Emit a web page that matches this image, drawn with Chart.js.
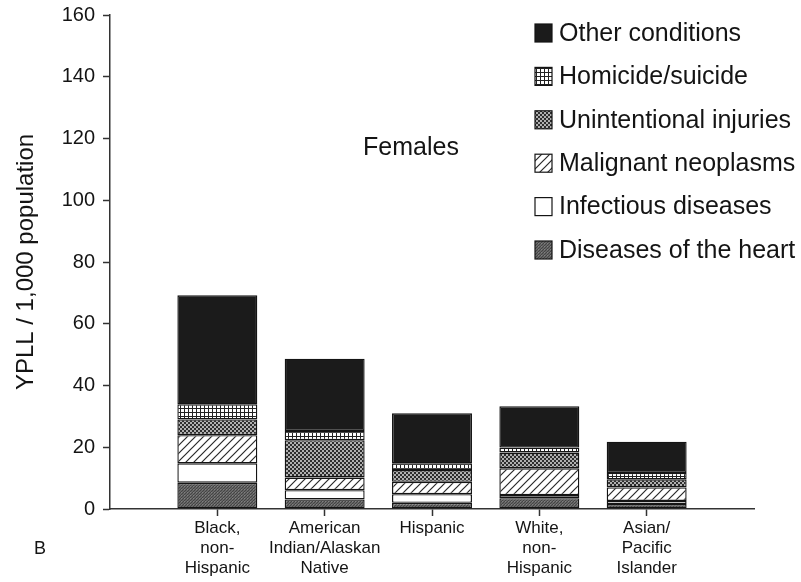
<!DOCTYPE html>
<html>
<head>
<meta charset="utf-8">
<script src="https://cdn.jsdelivr.net/npm/chart.js@4.4.1/dist/chart.umd.min.js"></script>
<style>
  html, body { margin: 0; padding: 0; background: #fff; }
  canvas { display: block; }
</style>
</head>
<body>
<canvas id="chart" width="801" height="582"></canvas>
<script>
// Years of potential life lost per 1,000 females, by race/ethnicity and cause
const groups = [
  ['Black,', 'non-', 'Hispanic'],
  ['American', 'Indian/Alaskan', 'Native'],
  'Hispanic',
  ['White,', 'non-', 'Hispanic'],
  ['Asian/', 'Pacific', 'Islander']
];
const heartDisease     = [8.5, 3.1, 2.0, 3.5, 1.6];
const infectious       = [6.3, 3.0, 2.8, 1.0, 1.0];
const malignant        = [9.1, 4.1, 4.0, 8.7, 4.4];
const unintentional    = [5.1, 12.1, 3.8, 5.1, 2.6];
const homicideSuicide  = [4.9, 3.0, 2.2, 1.6, 2.1];
const otherConditions  = [35.3, 23.4, 16.2, 13.4, 10.1];
const yMin = 0, yMax = 160, yStep = 20;

const FONT = '"Liberation Sans", Arial, Helvetica, sans-serif';
const INK = '#141414';

// ---- fill textures ----
function tile(size, paint) {
  const c = document.createElement('canvas');
  c.width = c.height = size;
  const g = c.getContext('2d');
  paint(g, size);
  return g.createPattern(c, 'repeat');
}
const solidDark = '#1b1b1b';
const gridFill = tile(4, (g, s) => {
  g.fillStyle = '#fff'; g.fillRect(0, 0, s, s);
  g.fillStyle = '#222'; g.fillRect(0, 0, s, 1); g.fillRect(0, 0, 1, s);
});
const dotFill = tile(4, (g, s) => {
  g.fillStyle = '#2e2e2e'; g.fillRect(0, 0, s, s);
  g.fillStyle = '#e8e8e8';
  g.beginPath(); g.arc(1, 1, 0.95, 0, Math.PI * 2); g.fill();
  g.beginPath(); g.arc(3, 3, 0.95, 0, Math.PI * 2); g.fill();
});
const hatchFill = tile(8, (g, s) => {
  g.fillStyle = '#fff'; g.fillRect(0, 0, s, s);
  g.strokeStyle = '#2a2a2a'; g.lineWidth = 1.2;
  g.beginPath();
  g.moveTo(-1, s + 1); g.lineTo(s + 1, -1);
  g.moveTo(-2, 2); g.lineTo(2, -2);
  g.moveTo(s - 2, s + 2); g.lineTo(s + 2, s - 2);
  g.stroke();
});
const stippleFill = tile(3, (g, s) => {
  g.fillStyle = '#666'; g.fillRect(0, 0, s, s);
  g.fillStyle = '#444'; g.fillRect(0, 0, 1, 1); g.fillRect(2, 1, 1, 1); g.fillRect(1, 2, 1, 1);
  g.fillStyle = '#808080'; g.fillRect(1, 0, 1, 1);
});

// empty slots at both ends leave room between the axis and the first/last bar
const pad = arr => [null, ...arr, null];
const labels = ['', ...groups, ''];

const series = [
  { label: 'Diseases of the heart', data: heartDisease, fill: stippleFill },
  { label: 'Infectious diseases', data: infectious, fill: '#ffffff' },
  { label: 'Malignant neoplasms', data: malignant, fill: hatchFill },
  { label: 'Unintentional injuries', data: unintentional, fill: dotFill },
  { label: 'Homicide/suicide', data: homicideSuicide, fill: gridFill },
  { label: 'Other conditions', data: otherConditions, fill: solidDark }
];

const datasets = series.map(s => ({
  label: s.label,
  data: pad(s.data),
  backgroundColor: s.fill,
  borderColor: INK,
  borderWidth: 1.4,
  borderSkipped: false,
  barPercentage: 0.745,
  categoryPercentage: 1
}));

// legend column, panel caption and panel letter
const annotations = {
  id: 'annotations',
  afterDraw(chart) {
    const ctx = chart.ctx;
    ctx.save();
    const items = chart.data.datasets.slice().reverse();
    const boxX = 535, boxW = 17, boxH = 18, textX = 559, rowY0 = 33, rowStep = 43.4;
    items.forEach((ds, i) => {
      const cy = rowY0 + i * rowStep;
      ctx.fillStyle = ds.backgroundColor;
      ctx.fillRect(boxX, cy - boxH / 2, boxW, boxH);
      ctx.strokeStyle = INK; ctx.lineWidth = 1.2;
      ctx.strokeRect(boxX, cy - boxH / 2, boxW, boxH);
      ctx.fillStyle = INK;
      ctx.font = '25px ' + FONT;
      ctx.textAlign = 'left'; ctx.textBaseline = 'middle';
      ctx.fillText(ds.label, textX, cy + 1);
    });
    ctx.font = '25px ' + FONT;
    ctx.textAlign = 'center'; ctx.textBaseline = 'middle';
    ctx.fillText('Females', 411, 148);
    ctx.font = '18px ' + FONT;
    ctx.fillText('B', 40, 549);
    ctx.restore();
  }
};

new Chart(document.getElementById('chart'), {
  type: 'bar',
  data: { labels, datasets },
  plugins: [annotations],
  options: {
    responsive: false,
    devicePixelRatio: 1,
    animation: false,
    layout: { padding: { top: 15, right: 47, left: 0, bottom: 0 } },
    plugins: { legend: { display: false }, tooltip: { enabled: false } },
    scales: {
      x: {
        stacked: true,
        offset: false,
        afterFit(scale) { scale.height = 73; },
        border: { display: true, color: '#333', width: 1.5 },
        grid: {
          offset: false,
          drawOnChartArea: false,
          drawTicks: true,
          tickLength: 7,
          tickWidth: 1.5,
          tickColor: ctx => (ctx.index === 0 || ctx.index === labels.length - 1) ? 'rgba(0,0,0,0)' : '#333'
        },
        ticks: {
          autoSkip: false,
          maxRotation: 0,
          padding: 3,
          color: INK,
          font: { family: FONT, size: 17, lineHeight: 1.15 }
        }
      },
      y: {
        stacked: true,
        min: yMin,
        max: yMax,
        afterFit(scale) {
          scale.width = 110;
          scale.paddingTop = 0;
          scale.paddingBottom = 0;
        },
        border: { display: true, color: '#333', width: 1.5 },
        grid: { drawOnChartArea: false, drawTicks: true, tickLength: 7, tickWidth: 1.5, tickColor: '#333' },
        ticks: {
          stepSize: yStep,
          padding: 8,
          color: INK,
          font: { family: FONT, size: 20 }
        },
        title: {
          display: true,
          text: 'YPLL / 1,000 population',
          color: INK,
          font: { family: FONT, size: 24 },
          padding: { top: 12, bottom: 4 }
        }
      }
    }
  }
});
</script>
</body>
</html>
